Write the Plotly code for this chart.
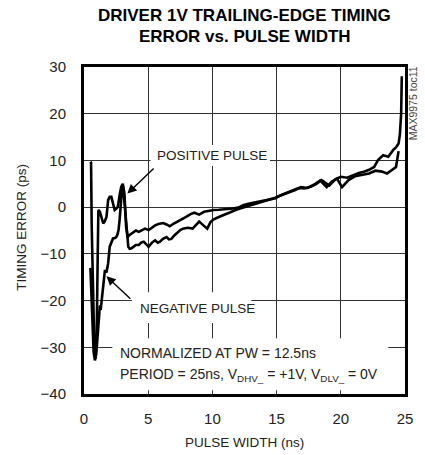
import plotly.graph_objects as go

# ---------------- data ----------------
pos_x = [0.5, 0.55, 0.6, 0.68, 0.78, 0.88, 0.98, 1.06, 1.12, 1.24, 1.38, 1.5, 1.62, 1.75, 1.88, 2.0,
         2.13, 2.26, 2.39, 2.52, 2.64, 2.77, 2.9, 3.02, 3.15, 3.28, 3.4, 3.53, 3.66, 3.85, 4.04, 4.27,
         4.5, 4.75, 5.03, 5.29, 5.54, 5.8, 6.17, 6.43, 6.68, 7.0, 7.32, 7.6, 7.95, 8.3, 8.59, 8.97,
         9.35, 9.7, 10.1, 10.5, 10.9, 11.3, 11.6, 12.0, 12.4, 12.8, 13.4, 13.9, 14.4, 14.9, 15.2,
         15.7, 16.2, 16.7, 17.2, 17.7, 18.1, 18.5, 18.8, 19.1, 19.6, 20.0, 20.5, 21.0, 21.4, 21.8,
         22.2, 22.6, 22.9, 23.3, 23.7, 24.1, 24.3, 24.5, 24.6, 24.7, 24.75]
pos_y = [9.7, 9.5, -4, -16, -27, -32.5, -29, -12, -0.6, -1, -2.5, -3.5, -3, -2.1, 1.5, 2.2,
         2.2, 0.5, -0.6, -0.3, 0.1, 2.5, 4.4, 5.0, 2.9, -4.2, -6.4, -6.0, -5.7, -5.3, -5.0, -5.3,
         -5.0, -4.6, -4.9, -4.3, -3.9, -3.6, -3.4, -3.7, -4.1, -3.5, -3.1, -2.6, -2.1, -1.5, -1.2, -1.6,
         -1.0, -0.8, -0.6, -0.55, -0.5, -0.4, -0.3, -0.1, 0.4, 0.7, 1.0, 1.3, 1.6, 1.9, 2.4,
         3.0, 3.5, 4.1, 4.0, 4.4, 5.0, 5.8, 5.2, 4.6, 6.0, 6.5, 6.3, 6.9, 7.3, 7.6,
         8.0, 8.6, 10.1, 11.1, 10.8, 12.3, 12.8, 13.6, 15.5, 20, 28]

neg_x = [0.5, 0.58, 0.66, 0.75, 0.85, 0.95, 1.05, 1.15, 1.24, 1.3, 1.37, 1.45, 1.55, 1.63, 1.75, 1.88,
         2.0, 2.13, 2.26, 2.4, 2.51, 2.6, 2.69, 2.78, 2.85, 2.95, 3.05, 3.15, 3.25, 3.35, 3.45, 3.56,
         3.66, 3.85, 4.04, 4.27, 4.45, 4.65, 4.84, 5.03, 5.29, 5.54, 5.75, 5.92, 6.15, 6.43, 6.62, 6.81,
         7.05, 7.32, 7.5, 7.7, 8.08, 8.46, 8.7, 8.97, 9.3, 9.6, 9.85, 10.1, 10.5, 10.9, 11.4, 11.9,
         12.6, 13.2, 13.9, 14.4, 14.9, 15.4, 15.9, 16.4, 16.9, 17.4, 17.9, 18.4, 18.9, 19.3, 19.7,
         20.1, 20.6, 21.1, 21.6, 22.2, 22.7, 23.2, 23.6, 23.96, 24.3, 24.5]
neg_y = [-13, -20, -27, -31, -32.8, -31.5, -28, -24, -21, -22, -19.9, -18, -16, -13.5, -14, -12,
         -8.5, -7.5, -6.7, -6.6, -6.4, -5.9, -4.9, -2.5, -0.6, 3.6, 4.35, 1.5, -2.5, -4.9, -8.5, -8.9,
         -8.85, -8.5, -8.1, -8.1, -7.6, -7.4, -8.0, -8.5, -7.6, -7.1, -7.6, -7.4, -6.8, -6.4, -6.9, -6.8,
         -6.0, -5.3, -4.9, -4.6, -4.4, -4.6, -3.8, -3.1, -3.9, -4.6, -3.2, -2.6, -2.1, -1.7, -1.1, -0.5,
         0.1, 0.6, 1.1, 1.5, 2.0, 2.6, 3.1, 3.6, 4.3, 4.1, 4.8, 5.7, 4.3, 5.5, 6.1,
         4.3, 5.8, 6.6, 6.9, 7.2, 7.8, 7.6, 7.2, 7.9, 8.6, 12]

x_ticks = [0, 5, 10, 15, 20, 25]
y_ticks = [-40, -30, -20, -10, 0, 10, 20, 30]

title_lines = ["DRIVER 1V TRAILING-EDGE TIMING", "ERROR vs. PULSE WIDTH"]
x_title = "PULSE WIDTH (ns)"
y_title = "TIMING ERROR (ps)"

FONT = "Liberation Sans, Arial, Helvetica, sans-serif"
TXT = "#222222"

fig = go.Figure()
fig.add_trace(go.Scatter(x=pos_x, y=pos_y, mode="lines", name="POSITIVE PULSE",
                         line=dict(color="black", width=2.6)))
fig.add_trace(go.Scatter(x=neg_x, y=neg_y, mode="lines", name="NEGATIVE PULSE",
                         line=dict(color="black", width=2.6)))

axis_common = dict(showgrid=True, gridcolor="#333333", gridwidth=1, zeroline=False,
                   showline=True, linecolor="black", linewidth=3, mirror=True,
                   ticks="", tickfont=dict(family=FONT, size=15, color=TXT))

fig.update_xaxes(range=[0, 25], tickvals=x_ticks, ticklabelstandoff=9, **axis_common)
fig.update_yaxes(range=[-40, 30], tickvals=y_ticks, ticklabelstandoff=12, **axis_common)

# white boxes behind labels (above gridlines, below traces)
boxes = [(2.21, -39.2, 23.7, -28.05), (5.18, 8.8, 14.48, 13.3), (3.73, -24.8, 13.03, -18.2)]
shapes = []
for x0, y0, x1, y1 in boxes:
    shapes.append(dict(type="rect", xref="x", yref="y", x0=x0, y0=y0, x1=x1, y1=y1,
                       fillcolor="white", line=dict(width=0), layer="between"))

ann = []
ann.append(dict(text=title_lines[0], xref="paper", yref="paper", x=0.5, y=1.157,
                xanchor="center", yanchor="middle", showarrow=False,
                font=dict(family=FONT, size=17, color="black", weight="bold")))
ann.append(dict(text=title_lines[1], xref="paper", yref="paper", x=0.5, y=1.0948,
                xanchor="center", yanchor="middle", showarrow=False,
                font=dict(family=FONT, size=17, color="black", weight="bold")))
ann.append(dict(text=x_title, xref="paper", yref="paper", x=0.5, y=-0.1468,
                xanchor="center", yanchor="middle", showarrow=False,
                font=dict(family=FONT, size=13.5, color=TXT)))
ann.append(dict(text=y_title, xref="paper", yref="paper", x=-0.195, y=0.51,
                xanchor="center", yanchor="middle", showarrow=False, textangle=-90,
                font=dict(family=FONT, size=13.5, color=TXT)))
ann.append(dict(text="MAX9975 toc11", xref="paper", yref="paper", x=1.026, y=0.89,
                xanchor="center", yanchor="middle", showarrow=False, textangle=-90,
                font=dict(family=FONT, size=10.5, color="#444444")))
ann.append(dict(text="POSITIVE PULSE", xref="x", yref="y", x=5.56, y=11.1,
                xanchor="left", yanchor="middle", showarrow=False,
                font=dict(family=FONT, size=13.5, color=TXT)))
ann.append(dict(text="NEGATIVE PULSE", xref="x", yref="y", x=4.19, y=-21.6,
                xanchor="left", yanchor="middle", showarrow=False,
                font=dict(family=FONT, size=13.5, color=TXT)))
ann.append(dict(text="NORMALIZED AT PW = 12.5ns", xref="x", yref="y", x=2.67, y=-31.2,
                xanchor="left", yanchor="middle", showarrow=False,
                font=dict(family=FONT, size=14, color=TXT)))
ann.append(dict(text="PERIOD = 25ns, V<sub>DHV_</sub> = +1V, V<sub>DLV_</sub> = 0V",
                xref="x", yref="y", x=2.67, y=-36.0,
                xanchor="left", yanchor="middle", showarrow=False,
                font=dict(family=FONT, size=14, color=TXT)))
# arrows
ann.append(dict(text="", xref="x", yref="y", x=3.38, y=2.9, axref="x", ayref="y",
                ax=5.54, ay=8.6, showarrow=True, arrowhead=2, arrowsize=1.3,
                arrowwidth=1.4, arrowcolor="black"))
ann.append(dict(text="", xref="x", yref="y", x=1.75, y=-14.8, axref="x", ayref="y",
                ax=3.73, ay=-19.9, showarrow=True, arrowhead=2, arrowsize=1.3,
                arrowwidth=1.4, arrowcolor="black"))

fig.update_layout(width=425, height=455, margin=dict(l=84, r=13, t=67, b=61),
                  paper_bgcolor="white", plot_bgcolor="white", showlegend=False,
                  shapes=shapes, annotations=ann, font=dict(family=FONT, color=TXT))

# remove the page's default body margin so the figure sits at the window origin
fig.write_html("out.html", config={"displayModeBar": False},
               post_script="document.body.style.margin='0px';document.body.style.overflow='hidden';")
